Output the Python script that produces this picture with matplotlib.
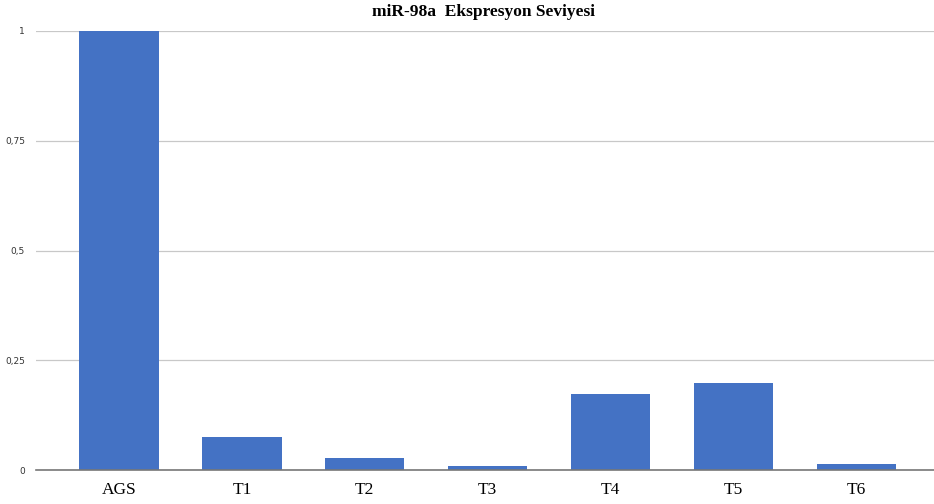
import matplotlib.pyplot as plt

## data
categories = ['AGS', 'T1', 'T2', 'T3', 'T4', 'T5', 'T6']
values = [1.0, 0.075, 0.028, 0.008, 0.173, 0.199, 0.014]
yticks = [0, 0.25, 0.5, 0.75, 1]
ytick_labels = ['0', '0,25', '0,5', '0,75', '1']

fig = plt.figure(figsize=(9.34, 5.04), dpi=100)
ax = fig.add_axes([36 / 934, 1 - 470 / 504, 898 / 934, 439 / 504])

x = range(len(categories))
ax.bar(x, values, width=0.645, color='#4472C4', zorder=3)

ax.set_xlim(-0.675, 6.63)
ax.set_ylim(0, 1)
ax.set_xticks(list(x))
ax.set_xticklabels(categories, fontfamily='Liberation Serif', fontsize=12.5)
ax.set_yticks(yticks)
ax.set_yticklabels(ytick_labels, fontsize=6.5, color='#333333')
ax.tick_params(length=0, pad=8)
ax.tick_params(axis='x', pad=9)

ax.grid(axis='y', color='#C8C8C8', linewidth=0.9, zorder=0)
for s in ['top', 'right', 'left']:
    ax.spines[s].set_visible(False)
ax.spines['bottom'].set_color('#777777')
ax.spines['bottom'].set_linewidth(1.2)
ax.spines['bottom'].set_zorder(4)

fig.text(0.518, 1 - 12 / 504, 'miR-98a  Ekspresyon Seviyesi', ha='center', va='center',
         fontfamily='Liberation Serif', fontweight='bold', fontsize=12.5)

fig.savefig('out.png', dpi=100)
